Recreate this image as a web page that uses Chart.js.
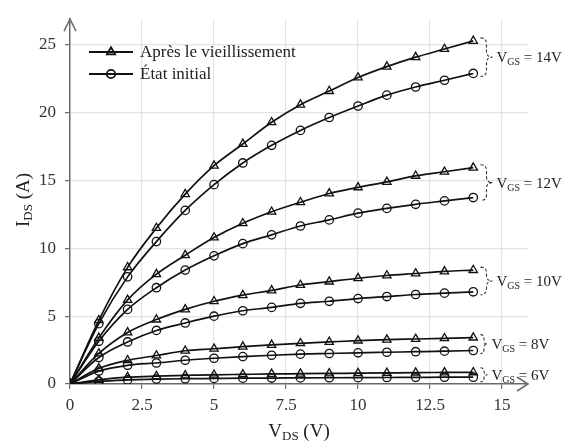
<!DOCTYPE html>
<html>
<head>
<meta charset="utf-8">
<script src="https://cdn.jsdelivr.net/npm/chart.js@4/dist/chart.umd.min.js"></script>
<style>
  html, body { margin: 0; padding: 0; background: #fff; }
  #wrap { width: 570px; height: 445px; }
</style>
</head>
<body>
<div id="wrap"><canvas id="c" width="570" height="445"></canvas></div>
<script>
// ---- data ----
const vds = [0, 1, 2, 3, 4, 5, 6, 7, 8, 9, 10, 11, 12, 13, 14];
const xTickLabels = ['0', '2.5', '5', '7.5', '10', '12.5', '15'];
const yTickLabels = ['0', '5', '10', '15', '20', '25'];
const vgsLabels = ['14V', '12V', '10V', '8V', '6V'];
const legendLabels = ['Après le vieillissement', 'État initial'];

const aged14 = [0, 4.7, 8.6, 11.5, 14.0, 16.1, 17.7, 19.3, 20.6, 21.6, 22.6, 23.4, 24.1, 24.7, 25.3];
const init14 = [0, 4.45, 7.9, 10.5, 12.8, 14.7, 16.3, 17.6, 18.7, 19.65, 20.5, 21.3, 21.9, 22.4, 22.9];
const aged12 = [0, 3.4, 6.2, 8.1, 9.5, 10.8, 11.85, 12.7, 13.4, 14.05, 14.5, 14.9, 15.35, 15.65, 15.95];
const init12 = [0, 3.15, 5.5, 7.1, 8.4, 9.45, 10.35, 11.0, 11.65, 12.1, 12.6, 12.95, 13.25, 13.5, 13.75];
const aged10 = [0, 2.25, 3.8, 4.75, 5.5, 6.1, 6.55, 6.9, 7.3, 7.55, 7.8, 8.0, 8.15, 8.3, 8.4];
const init10 = [0, 1.95, 3.1, 3.95, 4.5, 5.0, 5.4, 5.65, 5.95, 6.1, 6.3, 6.45, 6.6, 6.7, 6.8];
const aged8 = [0, 1.15, 1.75, 2.1, 2.45, 2.6, 2.75, 2.88, 3.0, 3.1, 3.2, 3.27, 3.32, 3.37, 3.42];
const init8 = [0, 0.95, 1.38, 1.55, 1.75, 1.9, 2.02, 2.12, 2.2, 2.25, 2.3, 2.34, 2.38, 2.42, 2.47];
const aged6 = [0, 0.3, 0.5, 0.58, 0.63, 0.68, 0.71, 0.74, 0.76, 0.78, 0.8, 0.82, 0.84, 0.85, 0.86];
const init6 = [0, 0.2, 0.3, 0.36, 0.39, 0.41, 0.43, 0.44, 0.45, 0.46, 0.47, 0.48, 0.49, 0.5, 0.5];

const agedSeries = [aged14, aged12, aged10, aged8, aged6];
const initSeries = [init14, init12, init10, init8, init6];

// ---- styling ----
const SERIF = "'Liberation Serif', 'Times New Roman', serif";
const LINE = '#111';
const AXIS = '#6a6a6a';
const GRID = '#e3e3e3';

function toPts(arr) { return arr.map((v, i) => ({ x: vds[i], y: v })); }
function mkDs(arr, style, label) {
  return {
    label: label,
    data: toPts(arr),
    borderColor: LINE,
    borderWidth: 1.7,
    pointStyle: style,
    pointRadius: style === 'triangle' ? 4.8 : 4.2,
    pointBorderWidth: 1.3,
    pointBorderColor: LINE,
    pointBackgroundColor: 'rgba(255,255,255,0)',
    fill: false,
    cubicInterpolationMode: 'monotone'
  };
}
const datasets = [];
for (let i = 0; i < agedSeries.length; i++) {
  datasets.push(mkDs(agedSeries[i], 'triangle', legendLabels[0] + ' ' + vgsLabels[i]));
  datasets.push(mkDs(initSeries[i], 'circle', legendLabels[1] + ' ' + vgsLabels[i]));
}

function drawRich(ctx, x, y, parts, align) {
  let total = 0;
  parts.forEach(p => { ctx.font = p.size + 'px ' + SERIF; p.w = ctx.measureText(p.t).width; total += p.w; });
  let cx = align === 'center' ? x - total / 2 : x;
  ctx.textAlign = 'left';
  ctx.textBaseline = 'alphabetic';
  parts.forEach(p => {
    ctx.font = p.size + 'px ' + SERIF;
    ctx.fillText(p.t, cx, y + (p.dy || 0));
    cx += p.w;
  });
}

function drawBrace(ctx, x0, y1, y2, w) {
  const ym = (y1 + y2) / 2;
  const q = Math.min(w / 2, (y2 - y1) / 4);
  const xm = x0 + w / 2;
  ctx.beginPath();
  ctx.moveTo(x0, y1);
  ctx.quadraticCurveTo(xm, y1, xm, y1 + q);
  ctx.lineTo(xm, ym - q);
  ctx.quadraticCurveTo(xm, ym, x0 + w, ym);
  ctx.quadraticCurveTo(xm, ym, xm, ym + q);
  ctx.lineTo(xm, y2 - q);
  ctx.quadraticCurveTo(xm, y2, x0, y2);
  ctx.stroke();
}

const decor = {
  id: 'decor',
  afterDraw(chart) {
    const ctx = chart.ctx;
    const xs = chart.scales.x, ys = chart.scales.y;
    const ca = chart.chartArea;
    ctx.save();
    // axis arrows
    ctx.strokeStyle = AXIS;
    ctx.lineWidth = 1.5;
    ctx.beginPath();
    ctx.moveTo(ca.left - 6, ca.top + 12);
    ctx.lineTo(ca.left, ca.top);
    ctx.lineTo(ca.left + 6, ca.top + 12);
    ctx.moveTo(ca.right - 11, ca.bottom - 7);
    ctx.lineTo(ca.right, ca.bottom);
    ctx.lineTo(ca.right - 11, ca.bottom + 7);
    ctx.stroke();

    ctx.fillStyle = '#222';
    // axis titles
    drawRich(ctx, (ca.left + ca.right) / 2, 437, [
      { t: 'V', size: 19 }, { t: 'DS', size: 13, dy: 3 }, { t: ' (V)', size: 19 }
    ], 'center');
    ctx.save();
    ctx.translate(29, 200);
    ctx.rotate(-Math.PI / 2);
    drawRich(ctx, 0, 0, [
      { t: 'I', size: 19 }, { t: 'DS', size: 13, dy: 3 }, { t: ' (A)', size: 19 }
    ], 'center');
    ctx.restore();

    // braces and VGS labels
    const last = vds.length - 1;
    const bx = xs.getPixelForValue(14.25);
    for (let i = 0; i < agedSeries.length; i++) {
      let yTop = ys.getPixelForValue(agedSeries[i][last]) - 3;
      let yBot = ys.getPixelForValue(initSeries[i][last]) + 3;
      if (yBot - yTop < 14) { const m = (yTop + yBot) / 2; yTop = m - 7; yBot = m + 7; }
      const w = (yBot - yTop) > 22 ? 12 : 7;
      ctx.strokeStyle = '#333';
      ctx.lineWidth = 1.1;
      ctx.setLineDash([3, 2]);
      drawBrace(ctx, bx, yTop, yBot, w);
      ctx.setLineDash([]);
      const ym = (yTop + yBot) / 2;
      ctx.fillStyle = '#222';
      drawRich(ctx, bx + w + 4, ym + 5, [
        { t: 'V', size: 15 }, { t: 'GS', size: 10, dy: 3 }, { t: ' = ' + vgsLabels[i], size: 15 }
      ], 'left');
    }

    // legend
    const rows = [52, 74];
    const styles = ['triangle', 'circle'];
    for (let r = 0; r < 2; r++) {
      const y = rows[r];
      ctx.strokeStyle = LINE;
      ctx.lineWidth = 1.8;
      ctx.beginPath();
      ctx.moveTo(89, y); ctx.lineTo(133, y);
      ctx.stroke();
      ctx.fillStyle = 'rgba(255,255,255,0)';
      Chart.helpers.drawPoint(ctx, { pointStyle: styles[r], radius: styles[r] === 'triangle' ? 4.8 : 4.2, borderWidth: 1.3, rotation: 0 }, 111, y);
      ctx.fillStyle = '#222';
      ctx.font = '17px ' + SERIF;
      ctx.textAlign = 'left';
      ctx.textBaseline = 'middle';
      ctx.fillText(legendLabels[r], 140, y + 1);
    }
    ctx.restore();
  }
};

function setTicks(step, labels) {
  return function (scale) {
    scale.ticks = labels.map((l, i) => ({ value: i * step }));
  };
}

new Chart(document.getElementById('c'), {
  type: 'line',
  data: { datasets: datasets },
  options: {
    responsive: false,
    devicePixelRatio: 1,
    animation: false,
    layout: { padding: { top: 3, right: 42, left: 0, bottom: 0 } },
    plugins: { legend: { display: false }, tooltip: { enabled: false } },
    elements: { line: { tension: 0.4 } },
    scales: {
      x: {
        type: 'linear',
        min: 0, max: 15.9,
        afterBuildTicks: setTicks(2.5, xTickLabels),
        afterFit(s) { s.height = 61; },
        ticks: {
          padding: 6,
          color: '#333',
          font: { family: SERIF, size: 17 },
          callback: (v) => xTickLabels[Math.round(v / 2.5)],
          maxRotation: 0, autoSkip: false
        },
        grid: {
          color: (c) => (c.tick && c.tick.value === 0) ? 'rgba(0,0,0,0)' : GRID,
          lineWidth: 1.2,
          tickColor: AXIS, tickLength: 5, drawTicks: true
        },
        border: { color: AXIS, width: 1.5 }
      },
      y: {
        type: 'linear',
        min: 0, max: 26.9,
        afterBuildTicks: setTicks(5, yTickLabels),
        afterFit(s) { s.width = 70; },
        ticks: {
          padding: 9,
          color: '#333',
          font: { family: SERIF, size: 17 },
          callback: (v) => yTickLabels[Math.round(v / 5)],
          autoSkip: false
        },
        grid: {
          color: (c) => (c.tick && c.tick.value === 0) ? 'rgba(0,0,0,0)' : GRID,
          lineWidth: 1.2,
          tickColor: AXIS, tickLength: 5, drawTicks: true
        },
        border: { color: AXIS, width: 1.5 }
      }
    }
  },
  plugins: [decor]
});
</script>
</body>
</html>
